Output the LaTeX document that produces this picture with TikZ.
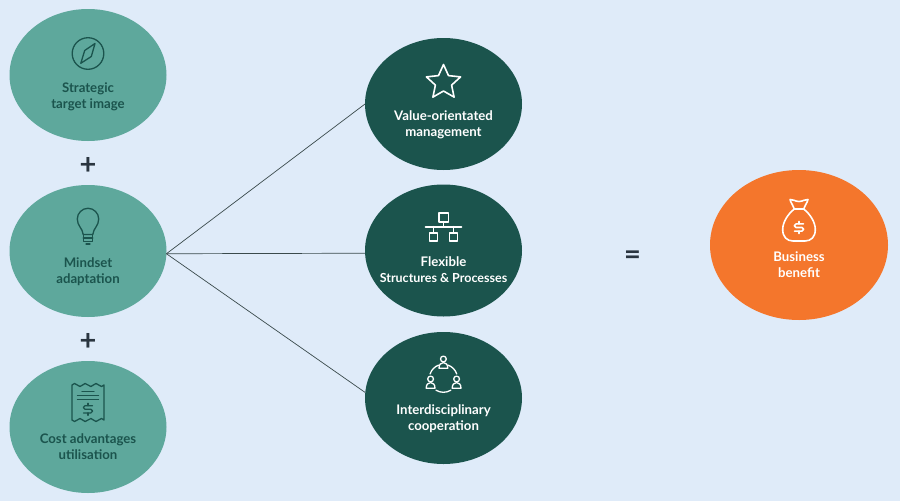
\documentclass[tikz,border=0pt]{standalone}
\usepackage{fontspec}
\usetikzlibrary{shapes.geometric}
\setmainfont{Lato}
\definecolor{bgc}{HTML}{DFEBF9}
\definecolor{tealc}{HTML}{5EA89C}
\definecolor{darkc}{HTML}{1B544D}
\definecolor{orangec}{HTML}{F4762C}
\definecolor{linec}{HTML}{3A4A4C}
\definecolor{signc}{HTML}{2A3540}
\tikzset{
  blob/.style={ellipse,inner sep=0pt,outer sep=0pt,minimum width=157pt,minimum height=132pt},
  lighttext/.style={text=white,align=center,font=\fontsize{13.2}{16}\selectfont\bfseries,inner sep=0pt},
  darktext/.style={lighttext,text=darkc},
  sign/.style={text=signc,font=\fontsize{29}{29}\selectfont\bfseries,inner sep=0pt},
  connector/.style={draw=linec,line width=0.7pt},
  iconl/.style={draw=white,line width=1.6pt,line join=round,line cap=round},
  icond/.style={draw=darkc,line width=1.3pt,line join=round,line cap=round},
  pics/dollarsign/.style={code={
    \draw[#1,rounded corners=1.6pt] (4.5,3.6)--(-4.5,3.6)--(-4.5,0)--(4.5,0)--(4.5,-3.6)--(-4.5,-3.6);
    \draw[#1] (0,-6)--(0,-3.6) (0,3.6)--(0,6);
  }}
}
\begin{document}
\begin{tikzpicture}[x=1pt,y=1pt,yscale=-1]
\fill[bgc] (0,0) rectangle (900,501);
\useasboundingbox (0,0) rectangle (900,501);
% ellipses
\node[blob,fill=tealc] (strategic) at (88,75) {};
\node[blob,fill=tealc] (mindset) at (88,251) {};
\node[blob,fill=tealc] (cost) at (88,427) {};
\node[blob,fill=darkc] (value) at (443.5,104) {};
\node[blob,fill=darkc] (flexible) at (443.5,250.5) {};
\node[blob,fill=darkc] (inter) at (443.5,398) {};
\node[ellipse,inner sep=0pt,outer sep=0pt,minimum width=178pt,minimum height=150pt,fill=orangec] (benefit) at (799,245) {};
% connectors
\draw[connector] (mindset.-2) -- (value.west);
\draw[connector] (mindset.-2) -- (flexible.-178);
\draw[connector] (mindset.-2) -- (inter.176);
% labels
\node[darktext] (l1) at (88,97) {Strategic\\target image};
\node[darktext] (l2) at (88,272) {Mindset\\adaptation};
\node[darktext] (l3) at (88,447) {Cost advantages\\utilisation};
\node[lighttext] (l4) at (443.5,125) {Value-orientated\\management};
\node[lighttext] (l5) at (443.5,270) {Flexible\\{\fontsize{12.5}{16}\selectfont Structures \& Processes}};
\node[lighttext] (l6) at (443.5,419) {Interdisciplinary\\cooperation};
\node[lighttext] (l7) at (799,265) {Business\\benefit};
\node[sign] (plusa) at (88,166) {+};
\node[sign] (plusb) at (88,342) {+};
\node[sign] (equals) at (632.5,257.5) {=};
% compass
\draw[icond] (88,53.5) circle (15.8);
\draw[icond] (95,43.5) -- (91.3,56.5) -- (80.8,63.3) -- (84.7,50.5) -- cycle;
% bulb
\draw[icond] (83.2,234.5) .. controls (82.5,228) and (77.3,226) .. (77.3,219) arc (180:360:10.7) .. controls (98.7,226) and (93.5,228) .. (92.8,234.5) -- cycle;
\draw[icond] (83.2,234.5) -- (83.2,241.5) -- (92.8,241.5) -- (92.8,234.5) (83.2,238) -- (92.8,238) (86,244) -- (90,244);
% receipt
\draw[icond] (72,385) .. controls (73.5,383) and (75.5,383) .. (77.3,385) .. controls (79,387) and (81,387) .. (82.6,385) .. controls (84,383) and (86,383) .. (88,385) .. controls (90,387) and (92,387) .. (93.4,385) .. controls (95,383) and (97,383) .. (98.7,385) .. controls (100.5,387) and (102.5,387) .. (104,385)
  -- (104,420) .. controls (102.5,418) and (100.5,418) .. (98.7,420) .. controls (97,422) and (95,422) .. (93.4,420) .. controls (92,418) and (90,418) .. (88,420) .. controls (86,422) and (84,422) .. (82.6,420) .. controls (81,418) and (79,418) .. (77.3,420) .. controls (75.5,422) and (73.5,422) .. (72,420) -- cycle;
\draw[icond] (82,391.7) -- (94,391.7) (77.5,395.7) -- (98.5,395.7) (77.5,399.3) -- (98.5,399.3);
\pic at (88,409.3) {dollarsign=icond};
% star
\draw[iconl] (443.5,64.5) -- (448.5,75.6) -- (460.6,76.9) -- (451.6,85.1) -- (454.1,97.1) -- (443.5,91) -- (432.9,97.1) -- (435.4,85.1) -- (426.4,76.9) -- (438.5,75.6) -- cycle;
% network
\draw[iconl] (439,212.7) rectangle (448.3,221.7);
\draw[iconl] (443.6,221.7) -- (443.6,226.7) (425.5,226.7) -- (461.5,226.7);
\draw[iconl] (433.3,226.7) -- (433.3,232.7) (453.5,226.7) -- (453.5,232.7);
\draw[iconl] (429.3,232.7) rectangle (437.4,240.7);
\draw[iconl] (449.4,232.7) rectangle (457.6,240.7);
% people
\foreach \px/\py in {443.4/359, 430.6/379, 456.6/379}{
  \draw[iconl,line width=1.3pt] (\px,\py) circle (2.9);
  \draw[iconl,line width=1.3pt] (\px-4.4,\py+9.2) -- (\px+4.4,\py+9.2) .. controls (\px+4.4,\py+5.5) and (\px+2.5,\py+3.6) .. (\px,\py+3.6) .. controls (\px-2.5,\py+3.6) and (\px-4.4,\py+5.5) .. (\px-4.4,\py+9.2) -- cycle;
}
\draw[iconl,line width=1.3pt] (443.4,378.3) ++(-70:14) arc (-70:-18:14);
\draw[iconl,line width=1.3pt] (443.4,378.3) ++(-110:14) arc (-110:-162:14);
\draw[iconl,line width=1.3pt] (443.4,378.3) ++(58:14) arc (58:122:14);
% money bag
\draw[iconl] (794.3,209) .. controls (788,214) and (782.7,222) .. (782.7,229.5) .. controls (782.7,237) and (787,241) .. (793,241) -- (805,241) .. controls (811,241) and (815.3,237) .. (815.3,229.5) .. controls (815.3,222) and (810,214) .. (803.7,209) -- cycle;
\draw[iconl] (794.3,209) .. controls (793.5,205.5) and (791,203.5) .. (790,199.5) .. controls (793,199) and (795,201.5) .. (799,201.5) .. controls (803,201.5) and (805,199) .. (808,199.5) .. controls (807,203.5) and (804.5,205.5) .. (803.7,209);
\pic at (799,227.5) {dollarsign=iconl};
\end{tikzpicture}
\end{document}
